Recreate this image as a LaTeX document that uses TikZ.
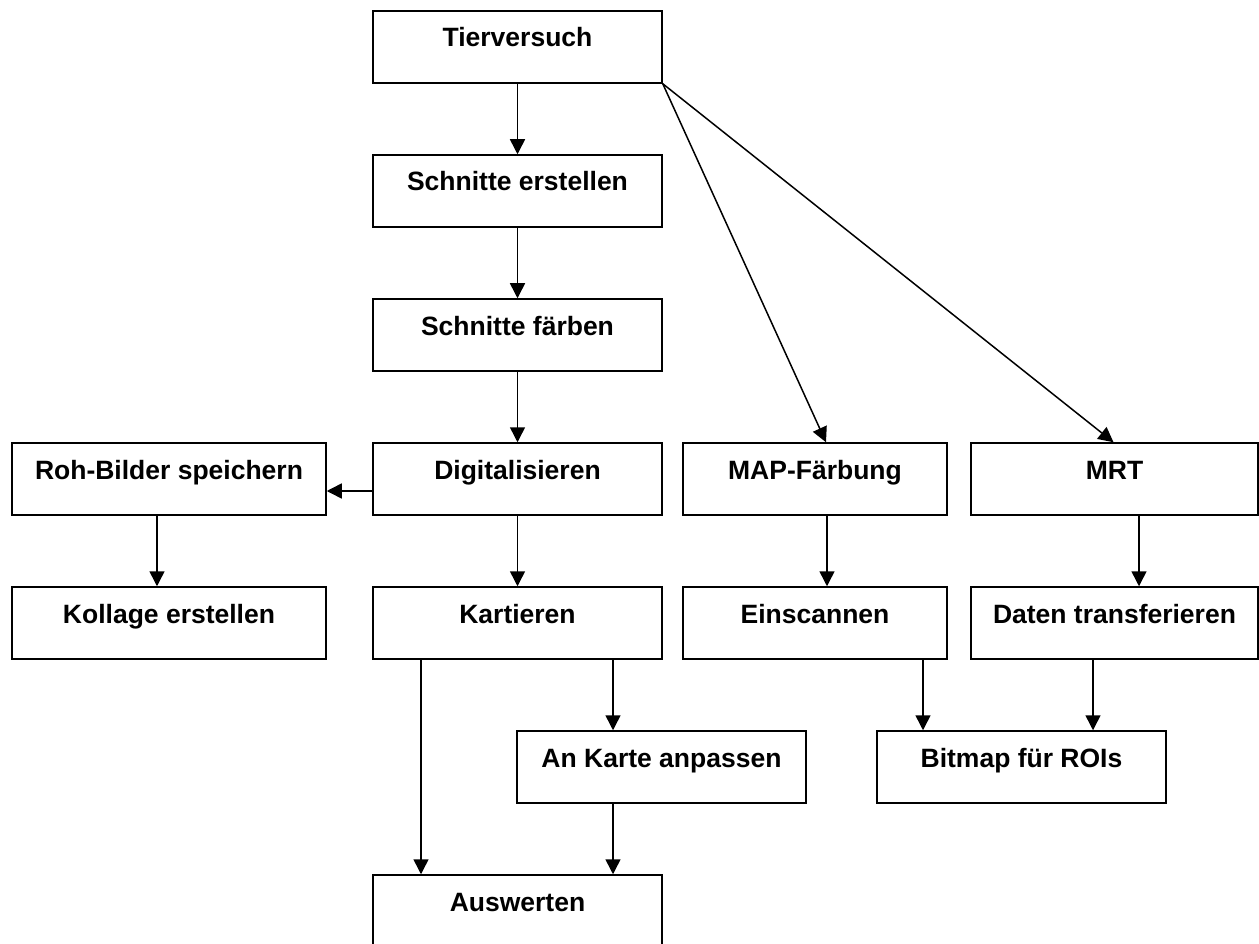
\documentclass[tikz,border=0pt]{standalone}
\usepackage{fontspec}
\setmainfont{Liberation Sans}
\usetikzlibrary{arrows.meta}

\begin{document}
\begin{tikzpicture}
    [x=1pt,y=-1pt,line width=1.5pt,
     every node/.style={draw,rectangle,inner xsep=0pt,inner ysep=0pt,
       text height=36pt,text depth=36pt,minimum width=289pt,
       font=\fontsize{26.5}{30}\selectfont\bfseries},
     pfeil/.style={-{Triangle[length=15pt,width=15pt]}}]
    \path[use as bounding box,clip] (0,0) rectangle (1259,944);
    \node (tier) at (517.5,47) {Tierversuch};
    \node (schnitt) at (517.5,191) {Schnitte erstellen};
    \node (faerb) at (517.5,335) {Schnitte f\"arben};
    \node (digi) at (517.5,479) {Digitalisieren};
    \node[minimum width=314pt] (roh) at (169,479) {Roh-Bilder speichern};
    \node[minimum width=264pt] (map) at (815,479) {MAP-F\"arbung};
    \node[minimum width=287pt] (mrt) at (1114.5,479) {MRT};
    \node[minimum width=314pt] (kollage) at (169,623) {Kollage erstellen};
    \node (kart) at (517.5,623) {Kartieren};
    \node[minimum width=264pt] (einsc) at (815,623) {Einscannen};
    \node[minimum width=287pt] (daten) at (1114.5,623) {Daten transferieren};
    \node (karte) at (661.5,767) {An Karte anpassen};
    \node (bitmap) at (1021.5,767) {Bitmap f\"ur ROIs};
    \node (ausw) at (517.5,911) {Auswerten};
    \draw[pfeil] (tier) -- (schnitt) ;
    \draw[pfeil] (schnitt) -- (faerb) ;
    \draw[pfeil] (faerb) -- (digi) ;
    \draw[pfeil] ([yshift=-12pt]digi.west) -- ([yshift=-12pt]roh.east) ;
    \draw[pfeil] ([xshift=-12pt]roh.south) -- ([xshift=-12pt]kollage.north) ;
    \draw[pfeil] (digi) -- (kart) ;
    \draw[pfeil] (tier.south east) -- ([xshift=11pt]map.north) ;
    \draw[pfeil] (tier.south east) -- ([xshift=-1pt]mrt.north) ;
    \draw[pfeil] ([xshift=12pt]map.south) -- ([xshift=12pt]einsc.north) ;
    \draw[pfeil] ([xshift=24.5pt]mrt.south) -- ([xshift=24.5pt]daten.north) ;
    \draw[pfeil] ([xshift=95.5pt]kart.south) -- ([xshift=-48.5pt]karte.north) ;
    \draw[pfeil] ([xshift=-96.5pt]kart.south) -- ([xshift=-96.5pt]ausw.north) ;
    \draw[pfeil] ([xshift=-48.5pt]karte.south) -- ([xshift=95.5pt]ausw.north) ;
    \draw[pfeil] ([xshift=108pt]einsc.south) -- ([xshift=-98.5pt]bitmap.north) ;
    \draw[pfeil] ([xshift=-21.5pt]daten.south) -- ([xshift=71.5pt]bitmap.north) ;
  \end{tikzpicture}
\end{document}
